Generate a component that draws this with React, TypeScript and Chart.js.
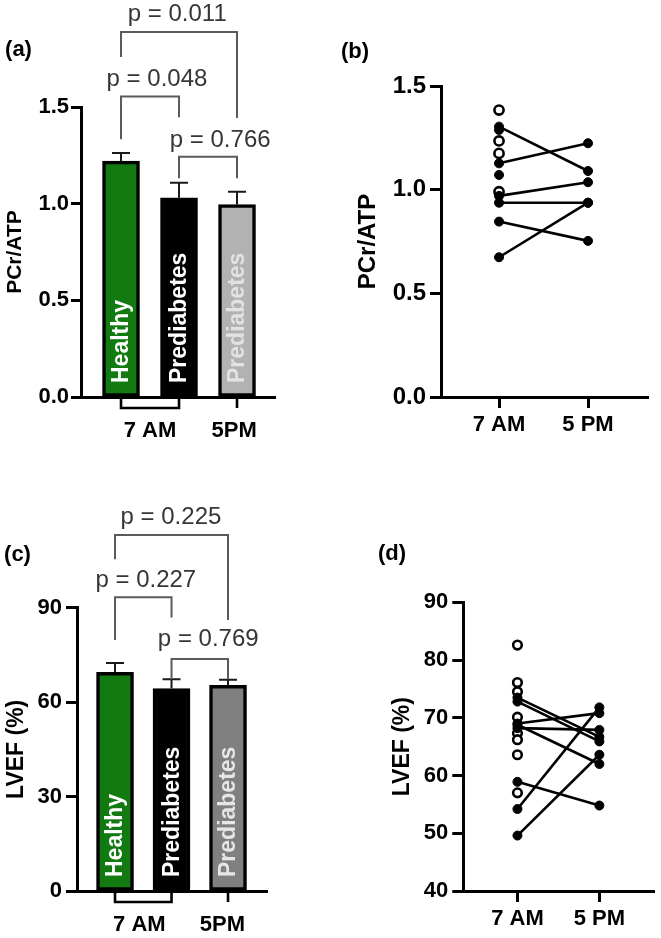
import React, { useEffect, useRef } from "react";
import { Chart, registerables } from "chart.js";

Chart.register(...registerables);

const FONT = "'Liberation Sans', Arial, Helvetica, sans-serif";
Chart.defaults.font.family = FONT;

// ---------- Panel (a): PCr/ATP bars ----------
const barGroups = ["Healthy", "Prediabetes", "Prediabetes"];
const barTimeLabels = ["7 AM", "5PM"];
const barTimeLabelPos = [0.5, 1.95];
const pcrMeans = [1.22, 1.03, 0.995];
const pcrErrors = [0.042, 0.078, 0.066];
const pcrYTicks = [0, 0.5, 1.0, 1.5];
const pcrPLabels = ["p = 0.011", "p = 0.048", "p = 0.766"];
const pcrPFrom = [0, 0, 1];
const pcrPTo = [2, 1, 2];
const pcrPLevel = [1.888, 1.554, 1.243];
const pcrPLegFromEnd = [1.759, 1.333, 1.131];
const pcrPLegToEnd = [1.443, 1.447, 1.131];
const pcrPTextLevel = [1.981, 1.643, 1.327];
const pcrPTextX = [0.97, 0.62, 1.71];

// ---------- Panel (b): PCr/ATP individual ----------
const timeLabels = ["7 AM", "5 PM"];
const pcr7amPaired = [1.304, 1.127, 0.97, 0.937, 0.846, 0.674];
const pcr5pmPaired = [1.09, 1.224, 1.036, 0.937, 0.753, 0.937];
const pcr7amUnpaired = [1.288, 1.071];
const pcr7amHealthy = [1.384, 1.235, 1.175, 0.99];

// ---------- Panel (c): LVEF bars ----------
const lvefMeans = [69.5, 64.3, 65.3];
const lvefErrors = [2.9, 3.0, 1.8];
const lvefYTicks = [0, 30, 60, 90];
const lvefTimeLabelPos = [0.43, 1.9];
const lvefPLabels = ["p = 0.225", "p = 0.227", "p = 0.769"];
const lvefPFrom = [0, 0, 1];
const lvefPTo = [2, 1, 2];
const lvefPLevel = [113.1, 93.3, 73.7];
const lvefPLegFromEnd = [105.4, 79.7, 67.3];
const lvefPLegToEnd = [86.1, 86.9, 67.3];
const lvefPTextLevel = [118.6, 98.6, 80.0];
const lvefPTextX = [0.99, 0.545, 1.65];

// ---------- Panel (d): LVEF individual ----------
const lvef7amPaired = [73.5, 72.8, 69.0, 68.8, 68.2, 58.9, 54.2, 49.6];
const lvef5pmPaired = [66.7, 65.9, 70.8, 62.0, 67.9, 54.8, 71.8, 63.6];
const lvef7amHealthy = [82.6, 76.1, 74.5, 70.1, 67.3, 66.2, 63.6, 57.0];
const lvefDYTicks = [40, 50, 60, 70, 80, 90];

type Box = { w: number; h: number; L: number; T: number; R: number; B: number };

function layoutFor(box: Box, xAxisH: number) {
  return {
    padding: {
      left: 0,
      top: box.T,
      right: box.w - box.R,
      bottom: box.h - box.B - xAxisH,
    },
  };
}

function scalesFor(p: {
  box: Box;
  xMin: number;
  xMax: number;
  xTickPos: number[];
  xLabels: string[];
  xDrawTicks: boolean;
  xLabelPad: number;
  xFont: number;
  yTicks: number[];
  yDecimals: number;
  yFont: number;
  yTickLen: number;
  yPad: number;
  yTitle: string;
  titleFont: number;
  titlePad: number;
}) {
  const axisGrid = (drawTicks: boolean, len: number) => ({
    display: true,
    drawOnChartArea: false,
    drawTicks,
    offset: false,
    tickLength: len,
    tickWidth: 3,
    tickColor: "#000",
  });
  const border = { display: true, color: "#000", width: 3, z: 1 };
  return {
    x: {
      type: "linear" as const,
      bounds: "data" as const,
      offset: false,
      min: p.xMin,
      max: p.xMax,
      afterBuildTicks: (s: any) => {
        s.ticks = p.xTickPos.map((v) => ({ value: v }));
      },
      afterFit: (s: any) => {
        s.height = 40;
      },
      ticks: {
        callback: (_v: any, i: number) => p.xLabels[i],
        color: "#000",
        font: { family: FONT, size: p.xFont, weight: "bold" as const },
        padding: p.xLabelPad,
        autoSkip: false,
        maxRotation: 0,
        minRotation: 0,
      },
      grid: axisGrid(p.xDrawTicks, 11),
      border,
    },
    y: {
      type: "linear" as const,
      min: p.yTicks[0],
      max: p.yTicks[p.yTicks.length - 1],
      afterBuildTicks: (s: any) => {
        s.ticks = p.yTicks.map((v) => ({ value: v }));
      },
      afterFit: (s: any) => {
        s.width = p.box.L;
      },
      ticks: {
        callback: (v: any) => Number(v).toFixed(p.yDecimals),
        color: "#000",
        font: { family: FONT, size: p.yFont, weight: "bold" as const },
        padding: p.yPad,
        autoSkip: false,
      },
      grid: axisGrid(true, p.yTickLen),
      border,
      title: {
        display: true,
        text: p.yTitle,
        color: "#000",
        font: { family: FONT, size: p.titleFont, weight: "bold" as const },
        padding: { top: p.titlePad, bottom: 0 },
      },
    },
  };
}

function panelLabelPlugin(text: string, cx: number, cy: number) {
  return {
    id: "panelLabel",
    afterDraw(chart: any) {
      const ctx = chart.ctx;
      ctx.save();
      ctx.font = `bold 22px ${FONT}`;
      ctx.fillStyle = "#000";
      ctx.textAlign = "center";
      ctx.textBaseline = "middle";
      ctx.fillText(text, cx, cy);
      ctx.restore();
    },
  };
}

function barExtrasPlugin(d: {
  means: number[];
  errors: number[];
  textColors: string[];
  pLabels: string[];
  pFrom: number[];
  pTo: number[];
  pLevel: number[];
  pLegFromEnd: number[];
  pLegToEnd: number[];
  pTextLevel: number[];
  pTextX: number[];
}) {
  return {
    id: "barExtras",
    afterDraw(chart: any) {
      const { ctx } = chart;
      const xs = chart.scales.x;
      const ys = chart.scales.y;
      const y0 = ys.getPixelForValue(0);
      ctx.save();
      // error bars (upper)
      ctx.strokeStyle = "#1a1a1a";
      ctx.lineWidth = 2;
      d.means.forEach((m, i) => {
        const x = xs.getPixelForValue(i);
        const yt = ys.getPixelForValue(m);
        const ye = ys.getPixelForValue(m + d.errors[i]);
        ctx.beginPath();
        ctx.moveTo(x, yt);
        ctx.lineTo(x, ye);
        ctx.moveTo(x - 9, ye);
        ctx.lineTo(x + 9, ye);
        ctx.stroke();
      });
      // labels inside bars
      ctx.font = `bold 23px ${FONT}`;
      ctx.textAlign = "left";
      ctx.textBaseline = "middle";
      barGroups.forEach((g, i) => {
        ctx.save();
        ctx.translate(xs.getPixelForValue(i), y0 - 14);
        ctx.rotate(-Math.PI / 2);
        ctx.fillStyle = d.textColors[i];
        ctx.fillText(g, 0, 1);
        ctx.restore();
      });
      // bracket under x axis + tick
      ctx.strokeStyle = "#000";
      ctx.lineWidth = 2.6;
      const xa = xs.getPixelForValue(0);
      const xb = xs.getPixelForValue(1);
      const xc = xs.getPixelForValue(2);
      const yb = y0 + 11;
      ctx.beginPath();
      ctx.moveTo(xa, y0);
      ctx.lineTo(xa, yb);
      ctx.lineTo(xb, yb);
      ctx.lineTo(xb, y0);
      ctx.moveTo(xc, y0);
      ctx.lineTo(xc, yb);
      ctx.stroke();
      // p-value brackets
      ctx.strokeStyle = "#5a5a5a";
      ctx.lineWidth = 2;
      ctx.fillStyle = "#363636";
      ctx.font = `24px ${FONT}`;
      ctx.textAlign = "center";
      ctx.textBaseline = "middle";
      d.pLabels.forEach((lab, i) => {
        const x1 = xs.getPixelForValue(d.pFrom[i]);
        const x2 = xs.getPixelForValue(d.pTo[i]);
        const yl = ys.getPixelForValue(d.pLevel[i]);
        ctx.beginPath();
        ctx.moveTo(x1, ys.getPixelForValue(d.pLegFromEnd[i]));
        ctx.lineTo(x1, yl);
        ctx.lineTo(x2, yl);
        ctx.lineTo(x2, ys.getPixelForValue(d.pLegToEnd[i]));
        ctx.stroke();
        ctx.fillText(lab, xs.getPixelForValue(d.pTextX[i]), ys.getPixelForValue(d.pTextLevel[i]));
      });
      ctx.restore();
    },
  };
}

function barConfig(p: {
  box: Box;
  means: number[];
  colors: string[];
  textColors: string[];
  xMin: number;
  xMax: number;
  labelPos: number[];
  yTicks: number[];
  yDecimals: number;
  yTitle: string;
  yFont: number;
  yTickLen: number;
  yPad: number;
  titleFont: number;
  titlePad: number;
  errors: number[];
  pLabels: string[];
  pFrom: number[];
  pTo: number[];
  pLevel: number[];
  pLegFromEnd: number[];
  pLegToEnd: number[];
  pTextLevel: number[];
  pTextX: number[];
  panel: string;
  panelX: number;
  panelY: number;
}): any {
  return {
    type: "bar",
    data: {
      datasets: [
        {
          data: p.means.map((m, i) => ({ x: i, y: m })),
          backgroundColor: p.colors,
          borderColor: "#000",
          borderWidth: 3.5,
          borderSkipped: false,
          barThickness: 37,
        },
      ],
    },
    options: {
      responsive: false,
      animation: false,
      devicePixelRatio: 1,
      layout: layoutFor(p.box, 40),
      plugins: { legend: { display: false }, tooltip: { enabled: false } },
      scales: scalesFor({
        box: p.box,
        xMin: p.xMin,
        xMax: p.xMax,
        xTickPos: p.labelPos,
        xLabels: barTimeLabels,
        xDrawTicks: false,
        xLabelPad: 21,
        xFont: 22,
        yTicks: p.yTicks,
        yDecimals: p.yDecimals,
        yFont: p.yFont,
        yTickLen: p.yTickLen,
        yPad: p.yPad,
        yTitle: p.yTitle,
        titleFont: p.titleFont,
        titlePad: p.titlePad,
      }),
    },
    plugins: [barExtrasPlugin(p), panelLabelPlugin(p.panel, p.panelX, p.panelY)],
  };
}

function pairedConfig(p: {
  box: Box;
  am: number[];
  pm: number[];
  unpaired: number[];
  healthy: number[];
  xMin: number;
  xMax: number;
  yTicks: number[];
  yDecimals: number;
  yTitle: string;
  yFont: number;
  xFont: number;
  titleFont: number;
  titlePad: number;
  panel: string;
  panelX: number;
  panelY: number;
  openRadius: number;
}): any {
  const filled = {
    pointRadius: 4.5,
    pointBackgroundColor: "#000",
    pointBorderColor: "#000",
    pointBorderWidth: 1,
    borderColor: "#000",
    borderWidth: 2.6,
    order: 1,
  };
  const datasets: any[] = p.am.map((a, i) => ({
    ...filled,
    data: [
      { x: 0, y: a },
      { x: 1, y: p.pm[i] },
    ],
    showLine: true,
  }));
  if (p.unpaired.length) {
    datasets.push({
      ...filled,
      data: p.unpaired.map((v) => ({ x: 0, y: v })),
      showLine: false,
    });
  }
  datasets.push({
    data: p.healthy.map((v) => ({ x: 0, y: v })),
    showLine: false,
    pointRadius: p.openRadius,
    pointBackgroundColor: "#fff",
    pointBorderColor: "#000",
    pointBorderWidth: 2.6,
    order: 2,
  });
  return {
    type: "scatter",
    data: { datasets },
    options: {
      responsive: false,
      animation: false,
      devicePixelRatio: 1,
      layout: layoutFor(p.box, 40),
      plugins: { legend: { display: false }, tooltip: { enabled: false } },
      scales: scalesFor({
        box: p.box,
        xMin: p.xMin,
        xMax: p.xMax,
        xTickPos: [0, 1],
        xLabels: timeLabels,
        xDrawTicks: true,
        xLabelPad: 4,
        xFont: p.xFont,
        yTicks: p.yTicks,
        yDecimals: p.yDecimals,
        yFont: p.yFont,
        yTickLen: 11,
        yPad: 4,
        yTitle: p.yTitle,
        titleFont: p.titleFont,
        titlePad: p.titlePad,
      }),
    },
    plugins: [panelLabelPlugin(p.panel, p.panelX, p.panelY)],
  };
}

function ChartPanel(props: { left: number; top: number; w: number; h: number; make: () => any }) {
  const ref = useRef<HTMLCanvasElement>(null);
  useEffect(() => {
    const chart = new Chart(ref.current as HTMLCanvasElement, props.make());
    return () => chart.destroy();
  }, []);
  return (
    <canvas
      ref={ref}
      width={props.w}
      height={props.h}
      style={{ position: "absolute", left: props.left, top: props.top, width: props.w, height: props.h }}
    />
  );
}

const boxA: Box = { w: 330, h: 450, L: 81, T: 107, R: 275, B: 397 };
const boxB: Box = { w: 331, h: 450, L: 111, T: 86, R: 318, B: 397 };
const boxC: Box = { w: 330, h: 488, L: 77, T: 157.7, R: 267, B: 441 };
const boxD: Box = { w: 331, h: 488, L: 133.3, T: 152.3, R: 325, B: 441 };

export default function App() {
  return (
    <div style={{ position: "absolute", left: 0, top: 0, width: 661, height: 938, background: "#fff" }}>
      <ChartPanel
        left={0}
        top={0}
        w={boxA.w}
        h={boxA.h}
        make={() =>
          barConfig({
            box: boxA,
            means: pcrMeans,
            errors: pcrErrors,
            colors: ["#117a11", "#000000", "#b2b2b2"],
            textColors: ["#ffffff", "#ffffff", "#e2e2e2"],
            xMin: -0.69,
            xMax: 2.655,
            labelPos: barTimeLabelPos,
            yTicks: pcrYTicks,
            yDecimals: 1,
            yTitle: "PCr/ATP",
            yFont: 22,
            yTickLen: 10,
            yPad: 2,
            titleFont: 21,
            titlePad: 2.4,
            pLabels: pcrPLabels,
            pFrom: pcrPFrom,
            pTo: pcrPTo,
            pLevel: pcrPLevel,
            pLegFromEnd: pcrPLegFromEnd,
            pLegToEnd: pcrPLegToEnd,
            pTextLevel: pcrPTextLevel,
            pTextX: pcrPTextX,
            panel: "(a)",
            panelX: 18.5,
            panelY: 50,
          })
        }
      />
      <ChartPanel
        left={330}
        top={0}
        w={boxB.w}
        h={boxB.h}
        make={() =>
          pairedConfig({
            box: boxB,
            am: pcr7amPaired,
            pm: pcr5pmPaired,
            unpaired: pcr7amUnpaired,
            healthy: pcr7amHealthy,
            xMin: -0.652,
            xMax: 1.674,
            yTicks: pcrYTicks,
            yDecimals: 1,
            yTitle: "PCr/ATP",
            yFont: 24,
            xFont: 22,
            titleFont: 24,
            titlePad: 23.6,
            panel: "(b)",
            panelX: 25,
            panelY: 52,
            openRadius: 4.6,
          })
        }
      />
      <ChartPanel
        left={0}
        top={450}
        w={boxC.w}
        h={boxC.h}
        make={() =>
          barConfig({
            box: boxC,
            means: lvefMeans,
            errors: lvefErrors,
            colors: ["#117a11", "#000000", "#808080"],
            textColors: ["#ffffff", "#ffffff", "#e6e6e6"],
            xMin: -0.673,
            xMax: 2.69,
            labelPos: lvefTimeLabelPos,
            yTicks: lvefYTicks,
            yDecimals: 0,
            yTitle: "LVEF (%)",
            yFont: 22,
            yTickLen: 11,
            yPad: 4,
            titleFont: 23,
            titlePad: 3.2,
            pLabels: lvefPLabels,
            pFrom: lvefPFrom,
            pTo: lvefPTo,
            pLevel: lvefPLevel,
            pLegFromEnd: lvefPLegFromEnd,
            pLegToEnd: lvefPLegToEnd,
            pTextLevel: lvefPTextLevel,
            pTextX: lvefPTextX,
            panel: "(c)",
            panelX: 17.5,
            panelY: 105,
          })
        }
      />
      <ChartPanel
        left={330}
        top={450}
        w={boxD.w}
        h={boxD.h}
        make={() =>
          pairedConfig({
            box: boxD,
            am: lvef7amPaired,
            pm: lvef5pmPaired,
            unpaired: [],
            healthy: lvef7amHealthy,
            xMin: -0.661,
            xMax: 1.668,
            yTicks: lvefDYTicks,
            yDecimals: 0,
            yTitle: "LVEF (%)",
            yFont: 22,
            xFont: 22,
            titleFont: 23,
            titlePad: 58.7,
            panel: "(d)",
            panelX: 62,
            panelY: 104,
            openRadius: 4.3,
          })
        }
      />
    </div>
  );
}
